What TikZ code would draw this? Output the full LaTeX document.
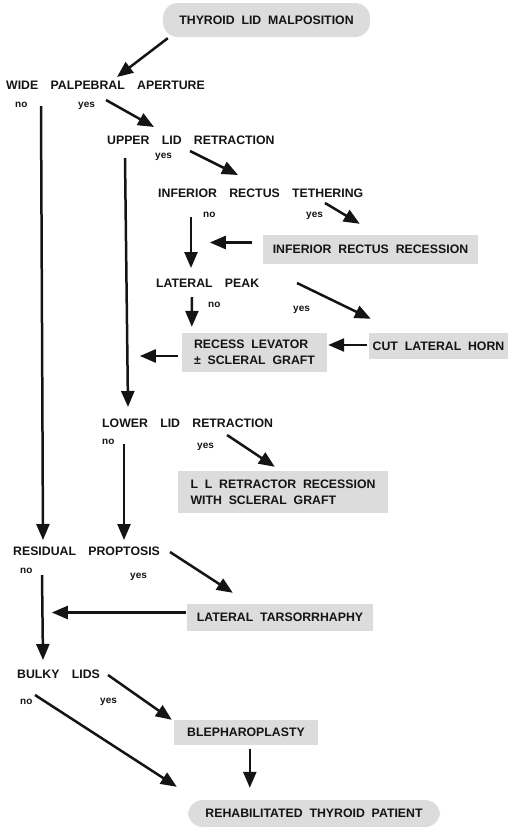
\documentclass[tikz,border=0pt]{standalone}
\usepackage{fontspec}
\setmainfont{Liberation Sans}[WordSpace=2]
\newfontfamily\qfont{Liberation Sans}[WordSpace=3.6]
\usetikzlibrary{arrows.meta,calc}
\definecolor{ink}{HTML}{141414}
\definecolor{tone}{HTML}{DCDCDC}
\tikzset{
  q/.style={inner sep=0pt, anchor=base west, font=\qfont\bfseries\fontsize{12.3}{16}\selectfont, text=ink},
  yn/.style={inner sep=0pt, anchor=base west, font=\bfseries\fontsize{10}{12}\selectfont, text=ink},
  act/.style 2 args={fill=tone, inner sep=0pt, align=left, font=\bfseries\fontsize{12.3}{16}\selectfont, text=ink, minimum width=#1pt, minimum height=#2pt},
  endbox/.style 2 args={act={#1}{#2}, rounded corners=15pt},
  arr/.style={draw=ink, line width=2.5pt, -{Triangle[length=16pt,width=13pt]}},
}
\begin{document}
\begin{tikzpicture}[x=1pt, y=-1pt]
  \useasboundingbox (0,0) rectangle (509,827);

  \node[endbox={207}{34}] (start) at (266.5,20) {THYROID LID MALPOSITION};
  \node[q] (wpa) at (6,89) {WIDE PALPEBRAL APERTURE};
  \node[yn] (wno) at (15,107) {no}; \node[yn] (wyes) at (78,107) {yes};
  \node[q] (ulr) at (107,144) {UPPER LID RETRACTION};
  \node[yn] (uyes) at (155,158) {yes};
  \node[q] (irt) at (158,197) {INFERIOR RECTUS TETHERING};
  \node[yn] (ino) at (203,217) {no}; \node[yn] (iyes) at (306,217) {yes};
  \node[act={215}{29}] (irr) at (370.5,249.5) {INFERIOR RECTUS RECESSION};
  \node[q] (lp) at (156,287) {LATERAL PEAK};
  \node[yn] (lno) at (208,307) {no}; \node[yn] (lyes) at (293,311) {yes};
  \node[act={145}{39}] (rl) at (254.5,352.5) {RECESS LEVATOR\\± SCLERAL GRAFT};
  \node[act={139}{26}] (clh) at (438.5,346) {CUT LATERAL HORN};
  \node[q] (llr) at (102,427) {LOWER LID RETRACTION};
  \node[yn] (dno) at (102,444) {no}; \node[yn] (dyes) at (197,448) {yes};
  \node[act={210}{42}] (lll) at (283,492) {L L RETRACTOR RECESSION\\WITH SCLERAL GRAFT};
  \node[q] (rp) at (13,555) {RESIDUAL PROPTOSIS};
  \node[yn] (rno) at (20,573) {no}; \node[yn] (ryes) at (130,578) {yes};
  \node[act={186}{27}] (lt) at (280,617.5) {LATERAL TARSORRHAPHY};
  \node[q] (bl) at (17,678) {BULKY LIDS};
  \node[yn] (bno) at (20,704) {no}; \node[yn] (byes) at (100,703) {yes};
  \node[act={144}{25}] (bph) at (246,732.5) {BLEPHAROPLASTY};
  \node[endbox={252}{27}] (rtp) at (314,813.5) {REHABILITATED THYROID PATIENT};

  % yes / no branches, ends offset from the labels
  \draw[arr] ($(start.south west)+(5,1)$) -- ($(wpa.base west)+(111,-12)$);
  \draw[arr] ($(wyes.base west)+(28,-7)$) -- ($(ulr.base west)+(47,-17)$);
  \draw[arr] ($(wno.base west)+(26,-1)$) -- ($(rp.base west)+(30,-15)$);
  \draw[arr] ($(ulr.base west)+(18,14)$) -- ($(llr.base west)+(26,-20)$);
  \draw[arr] ($(uyes.base west)+(35,-7)$) -- ($(irt.base west)+(80,-22)$);
  \draw[arr] ($(iyes.base west)+(19,-14)$) -- ($(irr.north west)+(97,-11)$);
  \draw[arr] ($(ino.base west)+(-12,0)$) -- ($(lp.base west)+(35,-19)$);
  \draw[arr] ($(irr.west)+(-11,-7)$) -- ($(irr.west)+(-53,-7)$);
  \draw[arr] ($(lp.base west)+(141,-4)$) -- ($(clh.north west)+(2,-14)$);
  \draw[arr] ($(lp.base west)+(36,10)$) -- ($(rl.north west)+(10,-6)$);
  \draw[arr] ($(clh.west)+(-2,-1)$) -- ($(rl.east)+(1,-7.5)$);
  \draw[arr] ($(rl.west)+(-4,3.5)$) -- ($(rl.west)+(-42,3.5)$);
  \draw[arr] ($(dyes.base west)+(30,-13)$) -- ($(lll.north west)+(97,-4)$);
  \draw[arr] ($(dno.base west)+(22,0)$) -- ($(rp.base west)+(111,-15)$);
  \draw[arr] ($(rp.base west)+(157,-3)$) -- ($(lt.north west)+(46,-11)$);
  \draw[arr] ($(lt.west)+(-1,-5)$) -- ($(lt.west)+(-135,-5)$);
  \draw[arr] ($(rno.base west)+(22,2)$) -- ($(bl.base west)+(26,-18)$);
  \draw[arr] ($(bl.base west)+(91,-3)$) -- ($(bph.north west)+(-2,0)$);
  \draw[arr] ($(bno.base west)+(15,-9)$) -- ($(rtp.north west)+(-11,-13)$);
  \draw[arr] ($(bph.south west)+(76,4)$) -- ($(rtp.north west)+(62,-12)$);
\end{tikzpicture}
\end{document}
